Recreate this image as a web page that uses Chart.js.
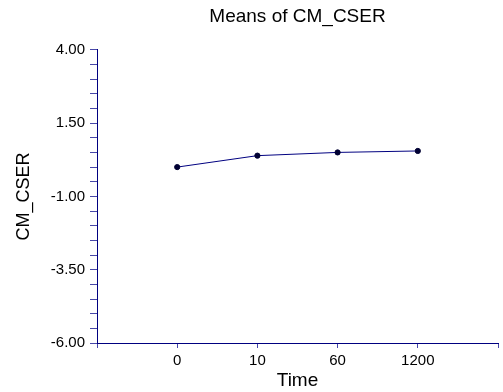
<!DOCTYPE html>
<html>
<head>
<meta charset="utf-8">
<script src="https://cdn.jsdelivr.net/npm/chart.js@4/dist/chart.umd.min.js"></script>
<style>
  html, body { margin: 0; padding: 0; background: #fff; }
  #wrap { width: 503px; height: 392px; }
</style>
</head>
<body>
<div id="wrap"><canvas id="canvas" width="503" height="392"></canvas></div>
<script>
//****DATA****//

var timeLabels = ['0', '10', '60', '1200'];
var meanValues = [0.00, 0.39, 0.50, 0.55];
var yMajorTicks = [-6.00, -3.50, -1.00, 1.50, 4.00];

//****HELPERS****//

var navy = '#000080';
var tickBlue = '#4848a8';

function buildPoints() {
  var pts = [];
  for (var i = 0; i < timeLabels.length; i++) {
    pts.push({ x: i + 1, y: meanValues[i] });
  }
  return pts;
}

function isMajor(v) {
  for (var t of yMajorTicks) {
    if (Math.abs(t - v) < 1e-6) return true;
  }
  return false;
}

//****CHART****//

Chart.defaults.font.family = "'Liberation Sans', Arial, sans-serif";
Chart.defaults.color = '#000';

var ctx = document.getElementById('canvas').getContext('2d');

var chart = new Chart(ctx, {
  type: 'line',
  data: {
    datasets: [
      {
        data: buildPoints(),
        borderColor: navy,
        borderWidth: 1,
        backgroundColor: '#000033',
        pointBorderColor: '#000033',
        pointRadius: 2.6,
        pointBorderWidth: 1,
        tension: 0
      }
    ]
  },
  options: {
    responsive: false,
    animation: false,
    layout: { padding: { top: 0, right: 2, bottom: 0, left: 0 } },
    plugins: {
      legend: { display: false },
      tooltip: { enabled: false },
      title: {
        display: true,
        fullSize: false,
        text: 'Means of CM_CSER',
        font: { size: 19, weight: 'normal' },
        color: '#000',
        padding: { top: 5, bottom: 22 }
      }
    },
    scales: {
      x: {
        type: 'linear',
        min: 0,
        max: 5,
        ticks: {
          stepSize: 1,
          font: { size: 15 },
          padding: 4,
          callback: function(v) {
            return (v >= 1 && v <= timeLabels.length) ? timeLabels[v - 1] : '';
          }
        },
        grid: {
          drawOnChartArea: false,
          tickLength: 5,
          tickColor: tickBlue
        },
        border: { color: navy, width: 1 },
        title: {
          display: true,
          text: 'Time',
          font: { size: 19 },
          padding: { top: 1, bottom: 0 }
        },
        afterFit: function(scale) {
          scale.height = 49;
        }
      },
      y: {
        min: -6,
        max: 4,
        ticks: {
          stepSize: 0.5,
          autoSkip: false,
          font: { size: 15 },
          padding: 5,
          callback: function(v) {
            return isMajor(v) ? v.toFixed(2) : '';
          }
        },
        grid: {
          drawOnChartArea: false,
          tickLength: 7,
          tickColor: tickBlue
        },
        border: { color: navy, width: 1 },
        title: {
          display: true,
          text: 'CM_CSER',
          font: { size: 18 },
          padding: { top: 13, bottom: 0 }
        },
        afterFit: function(scale) {
          scale.width = 97;
        }
      }
    }
  }
});
</script>
</body>
</html>
